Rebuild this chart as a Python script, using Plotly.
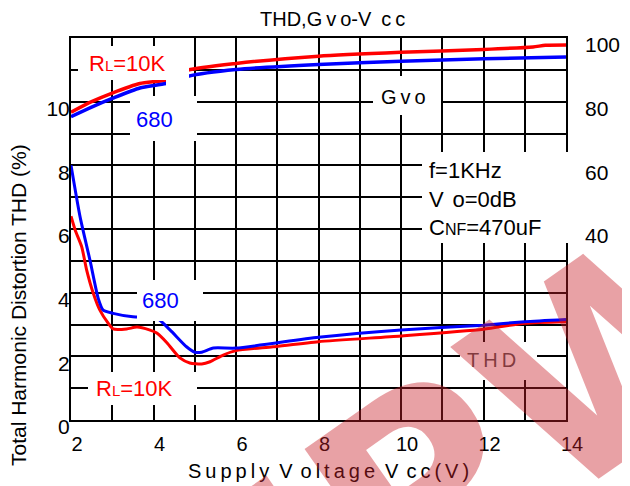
import plotly.graph_objects as go

# ---------------- data ----------------
vcc_gvo_10k = [2.0, 2.5, 3.0, 3.67, 4.35, 4.84, 6.0, 8.0, 10.0, 12.0, 13.2, 13.5, 14.0]
gvo_10k = [76.7, 80.0, 82.7, 85.7, 86.9, 89.9, 92.0, 94.3, 95.5, 96.4, 97.2, 97.7, 97.8]

vcc_gvo_680 = [2.0, 2.5, 3.0, 3.67, 4.3, 4.84, 6.0, 8.0, 10.0, 12.0, 14.0]
gvo_680 = [75.3, 78.3, 81.0, 84.3, 85.7, 88.0, 90.1, 91.7, 92.7, 93.5, 94.0]

vcc_thd_10k = [2.0, 2.1, 2.26, 2.38, 2.54, 2.7, 2.9, 3.02, 3.35, 3.6, 3.9, 4.08, 4.33,
               4.64, 4.88, 5.17, 5.37, 5.69, 6.0, 6.9, 8.0, 10.0, 12.0, 13.0, 14.0]
thd_10k = [6.40, 5.97, 5.44, 4.71, 3.98, 3.45, 3.04, 2.86, 2.86, 2.92, 2.83, 2.73, 2.42,
           1.95, 1.79, 1.76, 1.83, 2.04, 2.18, 2.30, 2.46, 2.64, 2.85, 3.04, 3.09]

vcc_thd_680 = [2.0, 2.22, 2.46, 2.66, 2.78, 3.02, 3.5, 4.08, 4.4, 4.8, 5.0, 5.17, 5.45,
               6.0, 8.0, 10.0, 12.0, 13.0, 14.0]
thd_680 = [8.0, 6.38, 5.02, 3.82, 3.45, 3.35, 3.24, 3.20, 2.83, 2.30, 2.13, 2.13, 2.26,
           2.26, 2.60, 2.83, 2.98, 3.09, 3.16]

x_ticks = [2, 4, 6, 8, 10, 12, 14]
thd_ticks = [0, 2, 4, 6, 8, 10]
gvo_ticks = [40, 60, 80, 100]

# ---------------- layout geometry (window pixels) ----------------
PAGE = 8                      # default body margin of the html page
W, H = 630 - PAGE, 486 - PAGE
L, R, T, B = 71, 566, 38, 420  # plot area in window pixels
FONT = "Liberation Sans, Arial, Helvetica, sans-serif"
TS = "\u2009"  # thin space for letter spacing


def px(x):
    return (x - L) / (R - L)


def py(y):
    return (B - y) / (B - T)


def spaced(s):
    return TS.join(list(s))


fig = go.Figure()
fig.add_trace(go.Scatter(x=vcc_gvo_10k, y=gvo_10k, yaxis="y2", mode="lines",
                         line=dict(color="#ff0000", width=3.5, shape="spline", smoothing=0.6),
                         name="Gvo RL=10K", showlegend=False))
fig.add_trace(go.Scatter(x=vcc_gvo_680, y=gvo_680, yaxis="y2", mode="lines",
                         line=dict(color="#0000ff", width=3.5, shape="spline", smoothing=0.6),
                         name="Gvo 680", showlegend=False))
fig.add_trace(go.Scatter(x=vcc_thd_10k, y=thd_10k, mode="lines",
                         line=dict(color="#ff0000", width=3, shape="spline", smoothing=0.6),
                         name="THD RL=10K", showlegend=False))
fig.add_trace(go.Scatter(x=vcc_thd_680, y=thd_680, mode="lines",
                         line=dict(color="#0000ff", width=3, shape="spline", smoothing=0.6),
                         name="THD 680", showlegend=False))

# white label boxes that mask grid and curves
boxes = [
    (78, 188, 46, 80),
    (166, 189, 46, 100),
    (130, 197, 96, 141),
    (373, 441, 76, 115),
    (422, 572, 152, 243),
    (137, 203, 280, 321),
    (460, 537, 342, 380),
    (88, 197, 372, 405),
]
shapes = []
for x0, x1, y0, y1 in boxes:
    shapes.append(dict(type="rect", xref="paper", yref="paper",
                       x0=px(x0), x1=px(x1), y0=py(y1), y1=py(y0),
                       fillcolor="white", line=dict(width=0), layer="above"))

small = '<span style="font-size:{}px">{}</span>'


def ann(text, x, y, size=20, color="black", xanchor="center", align="center", **kw):
    return dict(text=text, x=px(x), y=py(y), xref="paper", yref="paper",
                showarrow=False, xanchor=xanchor, yanchor="middle", align=align,
                font=dict(family=FONT, size=size, color=color), **kw)


annotations = [
    ann("R" + small.format(15, "L") + "=10K", 127, 63, size=22, color="#ff0000"),
    ann("680", 154, 120, size=22, color="#0000ff"),
    ann(spaced("Gvo"), 403, 97, size=20),
    ann("f=1KHz<br>V" + TS + TS + "o=0dB<br>C" + small.format(16, "NF") + "=470uF",
        427, 199, size=22, xanchor="left", align="left"),
    ann("680", 160, 300, size=22, color="#0000ff"),
    ann(spaced("THD"), 491, 360, size=20, color="#505050"),
    ann("R" + small.format(15, "L") + "=10K", 134, 388, size=22, color="#ff0000"),
    # titles
    ann("THD," + spaced("Gvo") + "-V" + "\u2002" + spaced("cc"), 332, 19, size=20),
    ann(spaced("Supply") + "\u2002" + spaced("V") + TS + TS + spaced("oltage") + "\u2002"
        + spaced("V") + TS + TS + spaced("cc(V)"), 328, 471, size=20),
    ann("Total Harmonic Distortion THD (%)", 18, 305, size=21, textangle=-90),
    ann("Voltage Gain Gvo (dB)", 623, 250, size=21, textangle=-90, xanchor="left"),
    # watermark
    dict(text="<b>EPW</b>", x=px(468), y=py(458), xref="paper", yref="paper",
         showarrow=False, xanchor="center", yanchor="middle", textangle=-35,
         font=dict(family="DejaVu Sans", size=265, color="rgba(200,30,40,0.42)")),
]

axis_common = dict(showline=True, linecolor="black", linewidth=2, mirror=True,
                   zeroline=False, ticks="", color="black", automargin=False)

fig.update_layout(
    width=W, height=H,
    margin=dict(l=L - PAGE, r=W - (R - PAGE), t=T - PAGE, b=H - (B - PAGE),
                autoexpand=False),
    paper_bgcolor="white", plot_bgcolor="white",
    font=dict(family=FONT, color="black"),
    showlegend=False,
    xaxis=dict(range=[2, 14], tickvals=x_ticks, showgrid=True, gridcolor="black", gridwidth=2,
               minor=dict(dtick=1, tick0=0, showgrid=True, gridcolor="black", gridwidth=2),
               tickfont=dict(family=FONT, size=20, color="black"),
               ticklabelstandoff=5, ticklabelshift=6, **axis_common),
    yaxis=dict(range=[0, 12], tickvals=thd_ticks, showgrid=True, gridcolor="black", gridwidth=2,
               minor=dict(dtick=1, tick0=0, showgrid=True, gridcolor="black", gridwidth=2),
               tickfont=dict(family=FONT, size=21, color="black"),
               ticklabelstandoff=-5, ticklabelshift=7, **axis_common),
    yaxis2=dict(range=[-20, 100], tickvals=gvo_ticks, overlaying="y", side="right",
                showgrid=False, showline=False, zeroline=False, ticks="", automargin=False,
                tickfont=dict(family=FONT, size=21, color="black"),
                ticklabelstandoff=18, ticklabelshift=7),
    shapes=shapes,
    annotations=annotations,
)

fig.write_html("out.html")
